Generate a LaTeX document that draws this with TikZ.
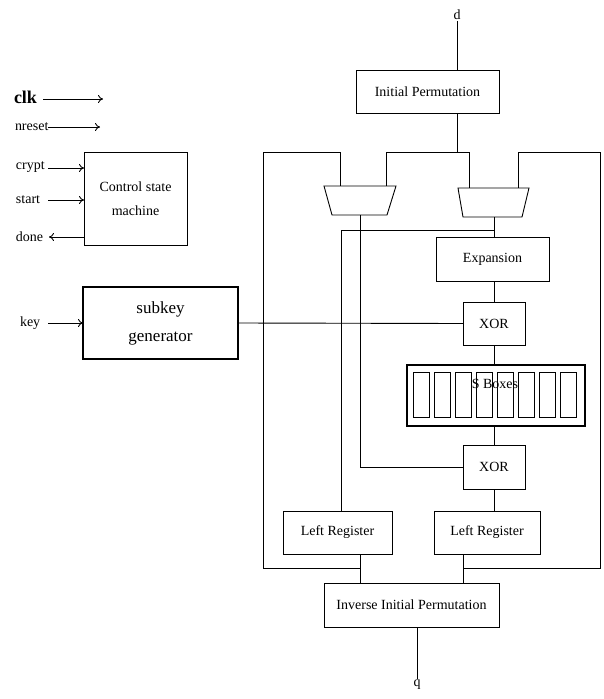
\documentclass[tikz,border=0pt]{standalone}
\usepackage{fontspec}
\setmainfont{Liberation Serif}
\usetikzlibrary{arrows.meta}
\begin{document}
\begin{tikzpicture}[x=1pt,y=-1pt,
  box/.style={draw,line width=0.9pt,inner sep=0pt,outer sep=0pt,font=\fontsize{14}{16}\selectfont,align=center},
  thickbox/.style={box,line width=2pt},
  lbl/.style={inner sep=0pt,outer sep=0pt,font=\fontsize{14}{16}\selectfont,anchor=west},
  wire/.style={line width=0.9pt},
  arr/.style={line width=0.9pt,-{To[length=5pt,width=8pt]}},
  cell/.style={draw,line width=0.6pt}]
\useasboundingbox (0,0) rectangle (604,699);

% ---- right datapath ----
\node[inner sep=1pt,font=\fontsize{14}{16}\selectfont] (d) at (457,15) {d};
\node[box,minimum width=143pt,minimum height=43pt] (ip) at (427.5,91.5) {Initial Permutation};
\coordinate (j0) at (457,152);
\coordinate (m1a) at (340,186);
\coordinate (m1b) at (386,186);
\coordinate (m2a) at (469,188);
\coordinate (m2b) at (518,188);
\coordinate (m1o) at (360,215);
\coordinate (m2o) at (494,217);

% muxes
\draw[wire] (324,186) -- (396,186) -- (387,215) -- (332,215) -- cycle;
\draw[wire] (458,188) -- (529,188) -- (522,217) -- (463,217) -- cycle;

\node[box,minimum width=113pt,minimum height=44pt] (exp) at (492.5,259) {Expansion};
\node[box,minimum width=62pt,minimum height=43pt] (xor1) at (494,323.5) {XOR};
\node[thickbox,minimum width=178pt,minimum height=61pt] (sb) at (496,395.5) {};
\foreach \i in {0,...,7}{
  \draw[cell] ({413+21*\i},372) rectangle ({429+21*\i},417);
}
\node[inner sep=0pt,font=\fontsize{14}{16}\selectfont] (sbt) at (495,384) {S Boxes};
\node[box,minimum width=62pt,minimum height=44pt] (xor2) at (494,467) {XOR};
\node[box,minimum width=109pt,minimum height=43pt] (lr1) at (337.5,532.5) {Left Register};
\node[box,minimum width=106pt,minimum height=43pt] (lr2) at (487,532.5) {Left Register};
\node[box,minimum width=175pt,minimum height=44pt] (iip) at (411.5,605) {Inverse Initial Permutation};
\node[inner sep=1pt,font=\fontsize{14}{16}\selectfont] (q) at (417,685) {q};

% wires
\draw[wire] (d) -- (ip.north -| d);
\draw[wire] (ip.south -| j0) -- (j0);
\draw[wire] (m1b) -- (386,152) -- (469,152) -- (m2a);
% loops
\draw[wire] (lr1.south -| m1o) -- (iip.north -| m1o);
\draw[wire] (360,568) -- (263,568) -- (263,152) -- (340,152) -- (m1a);
\draw[wire] (lr2.south -| 463,0) -- (iip.north -| 463,0);
\draw[wire] (463,568) -- (600,568) -- (600,152) -- (518,152) -- (m2b);
% mux outputs
\draw[wire] (m1o) -- (360,467) -- (xor2.west);
\draw[wire] (m2o) -- (exp.north -| m2o);
\draw[wire] (494,230) -- (341,230) -- (lr1.north -| 341,0);
% right chain
\draw[wire] (exp.south -| m2o) -- (xor1.north -| m2o);
\draw[wire] (xor1.south -| m2o) -- (sb.north -| m2o);
\draw[wire] (sb.south -| m2o) -- (xor2.north -| m2o);
\draw[wire] (xor2.south -| m2o) -- (lr2.north -| m2o);
\draw[wire] (iip.south -| q) -- (q);

% ---- left side ----
\node[box,minimum width=103pt,minimum height=93pt,font=\fontsize{14}{24}\selectfont] (csm) at (135.5,198.5) {Control state\\machine};
\node[thickbox,minimum width=155pt,minimum height=72pt,font=\fontsize{17}{28}\selectfont] (sg) at (160.5,323) {subkey\\generator};

\node[lbl,font=\bfseries\fontsize{18}{20}\selectfont] (clk) at (14,97) {clk};
\coordinate (clke) at (103,99);
\draw[arr] (43,99) -- (clke);
\node[lbl] (nreset) at (15,127) {nreset};
\coordinate (nre) at (100,127);
\draw[arr] (nreset.east) -- (nre);
\node[lbl] (crypt) at (16,167) {crypt};
\draw[arr] (48,168) -- (csm.west |- 0,168);
\node[lbl] (start) at (16,200) {start};
\draw[arr] (48,200) -- (csm.west |- 0,200);
\node[lbl] (done) at (16,237) {done};
\draw[arr] (csm.west |- 0,237) -- (49,237);
\node[lbl] (key) at (20,323) {key};
\draw[arr] (48,323) -- (sg.west);
\draw[wire] (sg.east) -- (xor1.west);
\end{tikzpicture}
\end{document}
